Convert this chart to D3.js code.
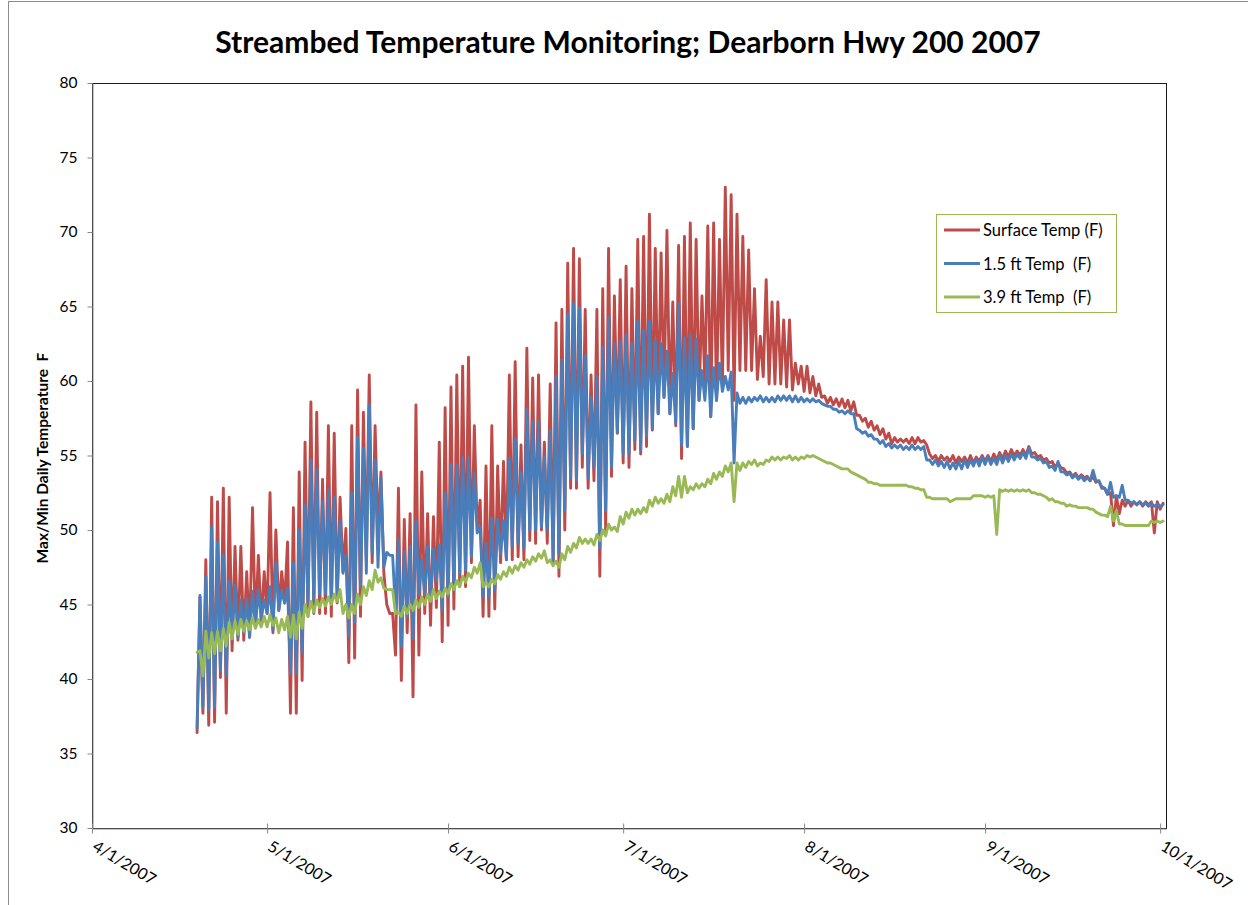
<!DOCTYPE html>
<html>
<head>
<meta charset="utf-8">
<script src="https://cdn.jsdelivr.net/npm/d3@7/dist/d3.min.js"></script>
<style>
  html, body { margin: 0; padding: 0; background: #fff; }
  svg { display: block; }
  text { font-family: Lato, "Liberation Sans", sans-serif; fill: #000; }
</style>
</head>
<body>
<svg id="chart" width="1248" height="905"></svg>
<script>
// Daily readings begin 4/19/2007; each day has a low (early) and a high (afternoon) value.
const firstDay = [2007, 3, 19];

const surfaceMax = [
  45.5, 48.0, 52.2, 51.9, 52.8, 52.2, 48.9, 48.9, 47.2, 51.5, 48.3, 47.2, 52.5, 50.0, 47.2, 49.2, 51.5, 53.9, 55.9, 58.6,
  57.9, 53.4, 57.0, 56.5, 52.2, 50.1, 57.0, 59.4, 57.9, 60.4, 57.0, 53.9, 45.0, 44.4, 52.8, 50.7, 51.1, 58.4, 53.9, 51.1, 50.9, 55.9,
  58.2, 59.6, 60.4, 61.0, 61.6, 57.0, 52.0, 54.3, 57.0, 54.3, 54.6, 60.4, 61.3, 55.7, 62.2, 60.2, 60.4, 55.9, 59.8, 63.9, 64.8,
  67.9, 68.9, 68.2, 64.8, 60.4, 64.8, 66.2, 68.9, 65.7, 66.8, 67.7, 66.2, 69.5, 69.7, 71.2, 68.9, 68.6, 70.1, 65.3, 69.1,
  69.7, 70.6, 69.5, 65.7, 70.4, 70.6, 69.5, 73.0, 72.5, 71.2, 69.7, 68.8, 66.2, 63.0, 66.8, 65.3, 65.3, 64.1, 64.1, 61.2, 61.0,
  61.0, 60.3, 59.8, 59.0, 58.9, 58.8, 58.8, 58.7, 58.6, 57.7, 57.5, 57.3, 57.0, 56.8, 56.5, 56.2, 56.1, 56.1, 56.2, 56.2, 56.0, 55.1,
  55.0, 55.0, 54.9, 55.0, 54.9, 54.9, 55.0, 54.9, 55.0, 55.0,
  55.1, 55.2, 55.3, 55.4, 55.3, 55.4, 55.6, 55.2, 55.0, 54.8, 54.6, 54.5, 54.1, 53.9, 53.8, 53.7, 53.6, 53.6, 53.3, 52.8,
  52.5, 52.3, 52.0, 52.0, 51.9, 51.9, 51.9, 51.9, 51.9, 51.8
];
const surfaceMin = [
  36.4,
  37.7, 36.9, 37.1, 40.1, 37.7, 41.9, 42.6, 42.6, 42.8, 43.5, 43.8, 44.4, 43.1, 44.6, 45.1, 37.7, 37.7, 39.9, 44.2, 44.4,
  44.4, 44.4, 44.2, 45.1, 47.2, 41.1, 41.4, 44.2, 48.0, 47.8, 49.8, 47.1, 44.4, 41.6, 39.9, 43.1, 38.8, 41.6, 44.4, 43.6, 44.8, 42.5,
  43.6, 44.7, 46.2, 46.2, 47.8, 50.0, 44.2, 44.2, 44.7, 47.8, 48.0, 48.0, 48.2, 48.0, 49.3, 49.1, 50.0, 49.1, 47.8, 46.9, 50.0,
  52.8, 52.8, 54.2, 52.8, 53.3, 46.9, 50.0, 53.6, 56.5, 54.5, 54.2, 55.4, 55.1, 55.6, 56.7, 57.8, 58.9, 57.8, 57.0, 54.8,
  55.6, 56.8, 58.7, 59.8, 57.6, 58.7, 59.6, 60.7, 58.7, 60.7, 60.7, 60.7, 60.1, 60.3, 59.8, 59.8, 59.8, 59.6, 59.4, 59.8, 59.3,
  59.2, 59.0, 58.9, 58.5, 58.4, 58.3, 58.2, 58.0, 57.7, 57.3, 56.9, 56.7, 56.4, 56.1, 55.8, 55.9, 55.9, 55.8, 55.8, 55.9, 55.7, 54.8,
  54.6, 54.7, 54.6, 54.5, 54.6, 54.5, 54.5, 54.6, 54.6, 54.6,
  54.7, 54.8, 54.9, 55.0, 55.0, 55.0, 55.1, 54.9, 54.7, 54.5, 54.2, 54.2, 53.8, 53.6, 53.5, 53.5, 53.3, 53.2, 52.8, 52.4,
  50.3, 51.1, 51.6, 51.6, 51.7, 51.6, 51.7, 49.8, 51.4
];

const ft15Max = [
  45.6, 46.9, 50.2, 49.2, 48.3, 46.6, 46.3, 45.3, 45.4, 45.9, 46.0, 45.3, 46.2, 47.8, 45.9, 46.1, 47.8, 50.0, 51.7, 54.7,
  54.1, 51.9, 52.7, 52.2, 50.6, 48.3, 52.5, 56.2, 55.5, 58.4, 54.7, 53.5, 48.5, 48.3, 49.4, 48.5, 48.9, 50.6, 48.0, 48.9, 48.7, 49.0,
  52.5, 54.4, 54.4, 54.9, 54.9, 53.8, 50.2, 49.1, 50.8, 50.7, 50.6, 54.8, 56.1, 53.9, 58.1, 57.3, 57.3, 54.9, 56.7, 60.3, 61.4,
  64.5, 65.2, 64.9, 61.7, 58.9, 60.3, 62.3, 64.3, 62.5, 62.7, 63.1, 62.5, 64.0, 63.4, 64.0, 62.7, 62.5, 62.0, 60.5, 65.2,
  62.9, 63.1, 62.8, 60.7, 61.7, 60.9, 61.2, 60.3, 60.6, 59.2, 58.9, 58.9, 58.9, 59.0, 58.9, 58.9, 59.0, 59.0, 59.0, 59.0, 58.9,
  58.8, 58.8, 58.7, 58.4, 58.3, 58.1, 58.0, 58.0, 57.8, 56.7, 56.6, 56.4, 56.1, 56.0, 55.8, 55.7, 55.7, 55.6, 55.7, 55.6, 55.6, 54.7,
  54.7, 54.6, 54.6, 54.5, 54.6, 54.7, 54.7, 54.8, 54.9, 54.9,
  54.8, 55.0, 55.0, 55.1, 55.1, 55.2, 55.5, 54.9, 54.8, 54.6, 54.3, 54.6, 53.9, 53.8, 53.7, 53.6, 53.5, 54.0, 53.3, 52.8,
  53.2, 52.3, 53.0, 52.0, 51.9, 51.9, 51.8, 51.8, 51.7, 51.7
];
const ft15Min = [
  36.7,
  38.1, 37.9, 38.1, 40.6, 40.2, 42.8, 42.8, 43.1, 42.8, 43.5, 44.1, 44.4, 43.3, 44.6, 45.1, 40.4, 40.4, 41.8, 45.1, 45.3,
  45.7, 45.7, 45.3, 45.7, 47.1, 42.9, 43.8, 46.2, 47.1, 48.4, 47.5, 47.5, 48.3, 44.6, 42.2, 44.2, 42.7, 45.7, 45.7, 45.3, 46.6, 44.6,
  45.5, 46.0, 47.1, 47.3, 48.2, 49.8, 45.5, 45.5, 46.0, 48.4, 48.0, 48.9, 49.1, 48.8, 50.0, 50.0, 50.2, 50.0, 48.0, 48.4, 51.3,
  53.5, 53.3, 55.1, 53.5, 54.2, 48.8, 51.3, 54.2, 56.5, 55.1, 55.1, 56.0, 55.4, 56.3, 56.8, 57.8, 58.9, 57.8, 57.2, 55.7,
  55.6, 56.8, 58.7, 58.7, 57.6, 58.7, 59.3, 59.4, 54.5, 58.5, 58.5, 58.6, 58.7, 58.6, 58.6, 58.6, 58.7, 58.7, 58.6, 58.6, 58.6,
  58.6, 58.6, 58.5, 58.3, 58.1, 57.9, 57.8, 57.8, 56.8, 56.5, 56.3, 56.1, 55.8, 55.6, 55.5, 55.5, 55.4, 55.4, 55.4, 55.4, 54.7, 54.4,
  54.3, 54.2, 54.1, 54.1, 54.1, 54.2, 54.3, 54.3, 54.4, 54.4,
  54.4, 54.5, 54.6, 54.7, 54.8, 54.8, 54.9, 54.7, 54.5, 54.2, 54.0, 53.9, 53.7, 53.5, 53.4, 53.3, 53.3, 53.3, 52.9, 52.4,
  52.2, 52.2, 52.0, 51.8, 51.7, 51.7, 51.6, 51.6, 51.6
];

const ft39Max = [
  41.9, 43.2, 43.1, 43.2, 43.4, 43.8, 43.9, 44.0, 43.9, 44.1, 44.0, 44.2, 44.3, 44.1, 44.0, 44.2, 44.3, 44.5, 45.0, 45.2,
  45.3, 45.4, 45.5, 45.7, 46.0, 45.0, 45.0, 45.7, 46.2, 46.6, 47.3, 46.8, 46.0, 46.0, 44.5, 44.9, 45.0, 45.3, 45.5, 45.7, 46.0, 45.9,
  46.1, 46.4, 46.6, 46.9, 47.1, 47.5, 47.8, 46.5, 46.7, 47.0, 47.2, 47.5, 47.6, 47.8, 48.0, 48.2, 48.4, 48.6, 48.0, 47.9, 48.4,
  48.9, 49.1, 49.5, 49.4, 49.4, 49.7, 50.0, 50.4, 50.2, 50.9, 51.2, 51.4, 51.4, 51.5, 52.0, 52.2, 52.1, 52.4, 52.9, 53.6,
  53.6, 52.9, 53.1, 53.1, 53.4, 53.8, 53.9, 54.3, 54.5, 54.5, 54.5, 54.6, 54.7, 54.5, 54.7, 54.9, 54.9, 54.9, 55.0, 54.9, 54.9,
  55.0, 55.0, 54.8, 54.6, 54.5, 54.3, 54.1, 54.1, 53.8, 53.6, 53.4, 53.2, 53.1, 53.0, 53.0, 53.0, 53.0, 53.0, 52.9, 52.8, 52.7, 52.2,
  52.1, 52.1, 52.1, 52.0, 52.1, 52.1, 52.1, 52.3, 52.3, 52.3,
  52.3, 52.7, 52.7, 52.7, 52.7, 52.7, 52.7, 52.5, 52.4, 52.2, 52.1, 51.9, 51.8, 51.7, 51.6, 51.5, 51.5, 51.4, 51.1, 51.0,
  51.6, 51.3, 50.4, 50.3, 50.3, 50.3, 50.3, 50.6, 50.6, 50.6
];
const ft39Min = [
  41.8,
  40.2, 41.4, 41.7, 41.9, 42.2, 42.7, 43.0, 43.2, 43.3, 43.4, 43.5, 43.5, 43.6, 43.1, 43.3, 42.8, 42.7, 43.4, 44.2, 44.5,
  44.8, 44.9, 45.0, 45.2, 44.4, 44.1, 44.4, 45.0, 45.6, 46.0, 46.5, 46.1, 46.0, 44.4, 44.2, 44.4, 44.6, 44.8, 45.0, 45.2, 45.4, 45.5,
  45.7, 46.0, 46.2, 46.5, 46.8, 47.1, 46.2, 46.2, 46.4, 46.7, 46.9, 47.1, 47.3, 47.5, 47.7, 47.9, 48.1, 47.8, 47.6, 47.5, 48.0,
  48.5, 48.8, 49.1, 49.1, 49.0, 49.3, 49.6, 50.0, 49.9, 50.4, 50.8, 51.0, 51.1, 51.2, 51.6, 51.8, 51.8, 51.9, 52.3, 52.2,
  52.5, 52.7, 52.8, 52.9, 53.1, 53.4, 53.6, 53.9, 51.9, 54.0, 54.2, 54.4, 54.3, 54.4, 54.6, 54.7, 54.7, 54.8, 54.7, 54.7, 54.8,
  54.9, 54.9, 54.7, 54.5, 54.4, 54.2, 54.1, 53.9, 53.7, 53.5, 53.2, 53.1, 53.0, 53.0, 53.0, 53.0, 53.0, 52.9, 52.8, 52.7, 52.2, 52.1,
  52.1, 52.1, 51.9, 52.1, 52.1, 52.1, 52.3, 52.3, 52.2, 52.2,
  49.7, 52.6, 52.6, 52.6, 52.6, 52.6, 52.5, 52.4, 52.3, 52.0, 51.9, 51.8, 51.6, 51.6, 51.5, 51.5, 51.4, 51.2, 51.0, 50.9,
  50.6, 50.4, 50.3, 50.3, 50.3, 50.3, 50.3, 50.5, 50.5
];

const seriesNames = ["Surface Temp (F)", "1.5 ft Temp  (F)", "3.9 ft Temp  (F)"];
const seriesColors = ["#BE4B48", "#4A7EBB", "#98B954"];
const yTicks = [30, 35, 40, 45, 50, 55, 60, 65, 70, 75, 80];
const chartTitle = "Streambed Temperature Monitoring; Dearborn Hwy 200 2007";
const yTitle = "Max/Min Daily Temperature  F";

// Interleave each day's low (midnight) and high (noon) into one time series.
function toPoints(mins, maxs) {
  const pts = [];
  for (let i = 0; i < maxs.length; i++) {
    pts.push({ t: new Date(firstDay[0], firstDay[1], firstDay[2] + i, 0), v: mins[i] });
    pts.push({ t: new Date(firstDay[0], firstDay[1], firstDay[2] + i, 12), v: maxs[i] });
  }
  return pts;
}
const series = [
  toPoints(surfaceMin, surfaceMax),
  toPoints(ft15Min, ft15Max),
  toPoints(ft39Min, ft39Max)
];

const svg = d3.select("#chart");
const plot = { left: 92, right: 1166, top: 83, bottom: 828 };

// Chart frame
svg.append("rect")
  .attr("x", 8.5).attr("y", 1.5).attr("width", 1300).attr("height", 1000)
  .attr("fill", "#fff").attr("stroke", "#8c8c8c").attr("stroke-width", 1);

const x = d3.scaleTime()
  .domain([new Date(2007, 3, 1), new Date(2007, 9, 2)])
  .range([plot.left, plot.right]);
const y = d3.scaleLinear().domain([30, 80]).range([plot.bottom, plot.top]);

// Plot area border
svg.append("rect")
  .attr("x", plot.left + 0.5).attr("y", plot.top + 0.5)
  .attr("width", plot.right - plot.left).attr("height", plot.bottom - plot.top)
  .attr("fill", "none").attr("stroke", "#1a1a1a").attr("stroke-width", 1);

// Y axis
const yAxis = svg.append("g")
  .attr("transform", `translate(${plot.left + 0.5},0)`)
  .call(d3.axisLeft(y).tickValues(yTicks).tickSize(5).tickPadding(10).tickSizeOuter(0));
yAxis.select(".domain").attr("stroke", "#868686");
yAxis.selectAll(".tick line").attr("stroke", "#868686");
yAxis.selectAll(".tick text").attr("font-size", 15.5).attr("font-family", "Lato, sans-serif").attr("fill", "#000");

// X axis with monthly ticks crossing the axis line
const xAxis = svg.append("g")
  .attr("transform", `translate(0,${plot.bottom + 0.5})`)
  .call(d3.axisBottom(x).ticks(d3.timeMonth.every(1)).tickFormat(d3.timeFormat("%-m/%-d/%Y"))
    .tickSize(5).tickSizeOuter(0));
xAxis.select(".domain").attr("stroke", "#868686");
xAxis.selectAll(".tick line").attr("stroke", "#868686").attr("y1", -5).attr("y2", 5);
xAxis.selectAll(".tick text")
  .attr("font-size", 16).attr("font-family", "Lato, sans-serif").attr("fill", "#000")
  .attr("text-anchor", "start")
  .attr("x", 0).attr("y", 0).attr("dy", 0)
  .attr("transform", "translate(-1,21) rotate(31)");

// Series lines
const line = d3.line().x(d => x(d.t)).y(d => y(d.v));
series.forEach((pts, i) => {
  svg.append("path")
    .datum(pts)
    .attr("d", line)
    .attr("fill", "none")
    .attr("stroke", seriesColors[i])
    .attr("stroke-width", 2.9)
    .attr("stroke-linejoin", "round")
    .attr("stroke-linecap", "round");
});

// Title
svg.append("text")
  .attr("x", 628).attr("y", 53)
  .attr("text-anchor", "middle")
  .attr("font-size", 30).attr("font-weight", "bold")
  .text(chartTitle);

// Y axis title
svg.append("text")
  .attr("transform", "translate(48,458) rotate(-90)")
  .attr("text-anchor", "middle")
  .attr("font-size", 15.5).attr("font-weight", "bold")
  .style("white-space", "pre")
  .text(yTitle);

// Legend
const legend = svg.append("g");
legend.append("rect")
  .attr("x", 936.5).attr("y", 214.5).attr("width", 180).attr("height", 98)
  .attr("fill", "#fff").attr("stroke", "#98B954").attr("stroke-width", 1);
seriesNames.forEach((name, i) => {
  const ly = 230 + i * 33.5;
  legend.append("line")
    .attr("x1", 944).attr("x2", 980).attr("y1", ly).attr("y2", ly)
    .attr("stroke", seriesColors[i]).attr("stroke-width", 3);
  legend.append("text")
    .attr("x", 983).attr("y", ly + 6)
    .attr("font-size", 16.5)
    .style("white-space", "pre")
    .text(name);
});
</script>
</body>
</html>
